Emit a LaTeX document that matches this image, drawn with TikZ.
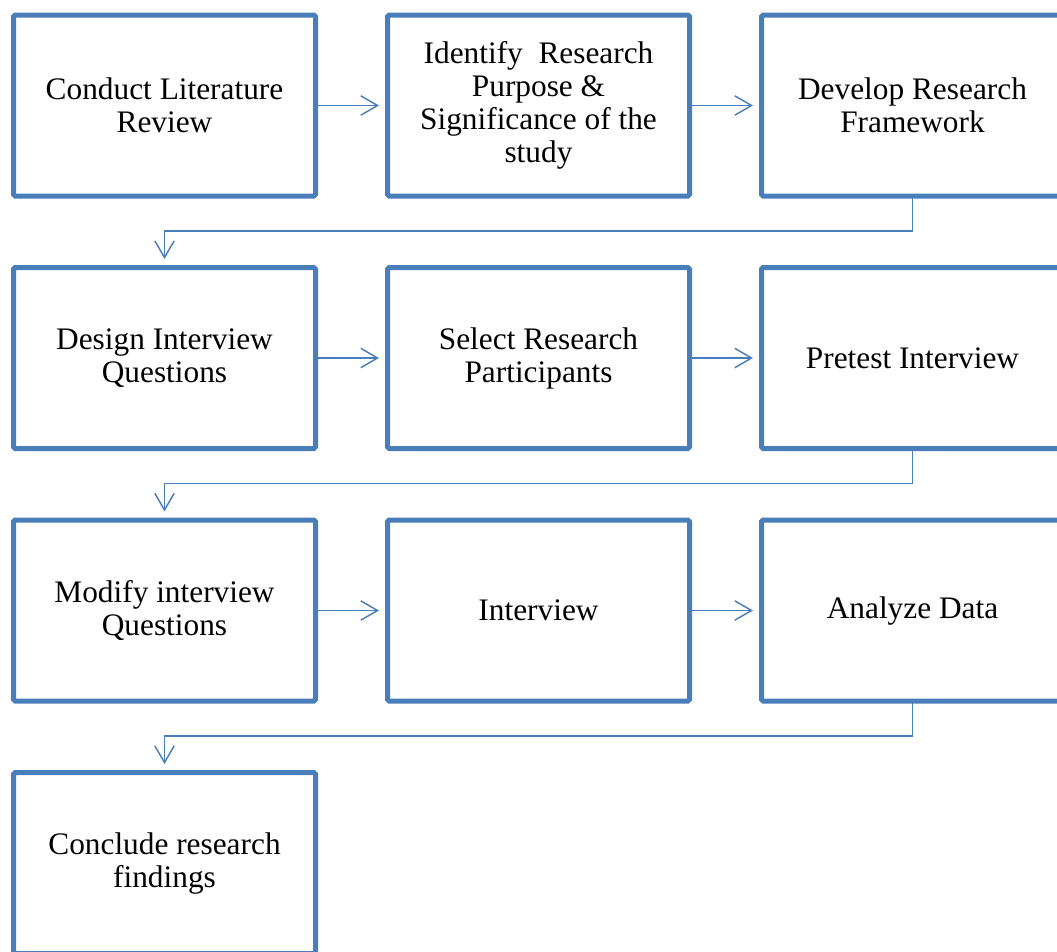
\documentclass[tikz,border=0pt]{standalone}
\usepackage{fontspec}
\setmainfont{Liberation Serif}
\usetikzlibrary{arrows.meta}
\definecolor{stepblue}{HTML}{4A7EBB}
\tikzset{
  stepbox/.style={draw=stepblue, line width=3.75pt, rounded corners=1.2pt,
    minimum width=226.5pt, minimum height=135.75pt, outer sep=0pt,
    inner sep=0pt, align=center, text=black,
    font=\fontsize{23.5pt}{24.75pt}\selectfont},
  flow/.style={draw=stepblue, line width=1.1pt,
    -{Straight Barb[length=12.5pt, width=14.5pt, line width=1.1pt]},
    shorten >=6.4pt},
}
\begin{document}
\begin{tikzpicture}[x=0.75pt, y=-0.75pt]
  \useasboundingbox (0,0) rectangle (1057,951);
  \clip (0,0) rectangle (1057,951);

  % row 1
  \node[stepbox] (lit)  at (164.5,105.5) {Conduct Literature\\Review};
  \node[stepbox] (purp) at (538.5,105.5) {Identify~ Research\\Purpose \&\\Significance of the\\study};
  \node[stepbox] (fw)   at (912.5,105.5) {Develop Research\\Framework};
  % row 2
  \node[stepbox] (desq) at (164.5,358) {Design Interview\\Questions};
  \node[stepbox] (sel)  at (538.5,358) {Select Research\\Participants};
  \node[stepbox] (pre)  at (912.5,358) {Pretest Interview};
  % row 3
  \node[stepbox] (mod)  at (164.5,610.5) {Modify interview\\Questions};
  \node[stepbox] (intv) at (538.5,610.5) {Interview};
  \node[stepbox] (ana)  at (912.5,610.5) {Analyze Data};
  % row 4
  \node[stepbox] (conc) at (164.5,863) {Conclude research\\findings};

  % arrows within each row
  \draw[flow, shorten <=1.9pt] (lit.east)  -- (purp.west);
  \draw[flow, shorten <=1.9pt] (purp.east) -- (fw.west);
  \draw[flow, shorten <=1.9pt] (desq.east) -- (sel.west);
  \draw[flow, shorten <=1.9pt] (sel.east)  -- (pre.west);
  \draw[flow, shorten <=1.9pt] (mod.east)  -- (intv.west);
  \draw[flow, shorten <=1.9pt] (intv.east) -- (ana.west);

  % elbow connectors between rows
  \draw[flow] (fw.south)  -- ++(0,35.2) -| (desq.north);
  \draw[flow] (pre.south) -- ++(0,35.2) -| (mod.north);
  \draw[flow] (ana.south) -- ++(0,35.2) -| (conc.north);
\end{tikzpicture}
\end{document}
